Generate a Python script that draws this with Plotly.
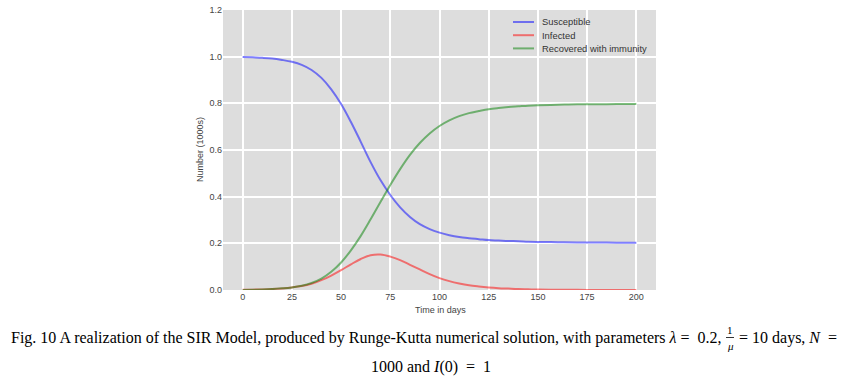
import plotly.graph_objects as go

days = [0, 5, 10, 15, 20, 25, 30, 35, 40, 45, 50, 55, 60, 65, 70, 75, 80, 85, 90, 95,
        100, 105, 110, 115, 120, 125, 130, 135, 140, 145, 150, 160, 170, 180, 190, 200]
susceptible = [0.999, 0.997, 0.995, 0.992, 0.986, 0.978, 0.965, 0.943, 0.909, 0.860,
               0.797, 0.720, 0.635, 0.548, 0.471, 0.407, 0.354, 0.313, 0.282, 0.261,
               0.246, 0.235, 0.227, 0.222, 0.218, 0.214, 0.212, 0.210, 0.209, 0.207,
               0.206, 0.205, 0.204, 0.204, 0.203, 0.203]
infected = [0.001, 0.0016, 0.0026, 0.0042, 0.0068, 0.011, 0.017, 0.027, 0.042, 0.062,
            0.085, 0.110, 0.133, 0.149, 0.152, 0.143, 0.128, 0.108, 0.088, 0.068,
            0.051, 0.038, 0.028, 0.020, 0.015, 0.011, 0.008, 0.006, 0.004, 0.003,
            0.002, 0.001, 0.001, 0.000, 0.000, 0.000]
recovered = [0.000, 0.001, 0.002, 0.004, 0.007, 0.011, 0.018, 0.030, 0.049, 0.078,
             0.118, 0.170, 0.232, 0.303, 0.377, 0.450, 0.518, 0.579, 0.630, 0.671,
             0.703, 0.727, 0.745, 0.758, 0.767, 0.775, 0.780, 0.784, 0.787, 0.790,
             0.792, 0.794, 0.796, 0.796, 0.797, 0.797]

series = [
    ("Susceptible", susceptible, "rgba(0,0,255,0.5)"),
    ("Infected", infected, "rgba(255,0,0,0.5)"),
    ("Recovered with immunity", recovered, "rgba(0,128,0,0.5)"),
]

xticks = [0, 25, 50, 75, 100, 125, 150, 175, 200]
yticks = [0.0, 0.2, 0.4, 0.6, 0.8, 1.0, 1.2]

# body margin is removed in the page (post_script), so layout is in page pixels
W, H = 861, 379
PL, PR, PT, PB = 223, 656, 10, 290          # plot area in page pixels
L, T = PL, PT
R, B = W - PR, H - PB
PW, PH = W - L - R, H - T - B


def px(x):
    return (x - L) / PW


def py(y):
    return (H - B - y) / PH


fig = go.Figure()
for name, vals, col in series:
    fig.add_trace(go.Scatter(x=days, y=vals, mode="lines", name=name, showlegend=False,
                             line=dict(color=col, width=2, shape="spline", smoothing=1.0)))

tick_font = dict(family="Liberation Sans, Arial, sans-serif", size=9, color="#444444")

fig.update_layout(
    width=W, height=H,
    margin=dict(l=L, r=R, t=T, b=B, autoexpand=False),
    paper_bgcolor="white",
    plot_bgcolor="#dddddd",
    showlegend=False,
    xaxis=dict(range=[-10, 210], tickvals=xticks, ticktext=[str(v) for v in xticks],
               showgrid=True, gridcolor="white", gridwidth=2, zeroline=False,
               showline=False, ticks="", tickfont=tick_font, automargin=False,
               ticklabeloverflow="allow"),
    yaxis=dict(range=[0, 1.2], tickvals=yticks, ticktext=["%.1f" % v for v in yticks],
               showgrid=True, gridcolor="white", gridwidth=2, zeroline=False,
               showline=False, ticks="", tickfont=tick_font, automargin=False,
               ticklabeloverflow="allow"),
)

# axis titles
fig.add_annotation(xref="paper", yref="paper", x=px(440), y=py(310), xanchor="center",
                   yanchor="middle", showarrow=False, font=tick_font, text="Time in days")
fig.add_annotation(xref="paper", yref="paper", x=px(200), y=py(150), xanchor="center",
                   yanchor="middle", showarrow=False, font=tick_font, text="Number (1000s)",
                   textangle=-90)

# legend (drawn manually to match the compact original layout)
leg_font = dict(family="Liberation Sans, Arial, sans-serif", size=9.4, color="#333333")
for i, (name, vals, col) in enumerate(series):
    yy = 22 + 13.2 * i
    fig.add_shape(type="line", xref="paper", yref="paper", x0=px(513), x1=px(534),
                  y0=py(yy), y1=py(yy), line=dict(color=col, width=2))
    fig.add_annotation(xref="paper", yref="paper", x=px(540), y=py(yy), xanchor="left",
                       yanchor="middle", showarrow=False, font=leg_font, text=name)

# caption
cap_font = dict(family="Liberation Serif, Times New Roman, serif", size=16, color="black")
small_font = dict(family="Liberation Serif, Times New Roman, serif", size=11, color="black")
frac_x = 730
fig.add_annotation(xref="paper", yref="paper", x=px(frac_x - 6), y=py(338),
                   xanchor="right", yanchor="middle", showarrow=False, font=cap_font,
                   text="Fig. 10 A realization of the SIR Model, produced by Runge-Kutta numerical solution, with parameters <i>λ</i> =  0.2,")
fig.add_annotation(xref="paper", yref="paper", x=px(frac_x), y=py(330),
                   xanchor="center", yanchor="middle", showarrow=False,
                   font=small_font, text="1")
fig.add_annotation(xref="paper", yref="paper", x=px(frac_x), y=py(346),
                   xanchor="center", yanchor="middle", showarrow=False,
                   font=small_font, text="<i>μ</i>")
fig.add_shape(type="line", xref="paper", yref="paper",
              x0=px(frac_x - 4), x1=px(frac_x + 4), y0=py(337.5), y1=py(337.5),
              line=dict(color="black", width=0.8))
fig.add_annotation(xref="paper", yref="paper", x=px(frac_x + 7), y=py(338),
                   xanchor="left", yanchor="middle", showarrow=False, font=cap_font,
                   text="= 10 days, <i>N</i>&nbsp; =")
fig.add_annotation(xref="paper", yref="paper", x=px(431), y=py(367),
                   xanchor="center", yanchor="middle", showarrow=False, font=cap_font,
                   text="1000 and <i>I</i>(0)&nbsp; = &nbsp;1")

fig.write_html("out.html", config={"displayModeBar": False},
               post_script="document.body.style.margin='0px';")
